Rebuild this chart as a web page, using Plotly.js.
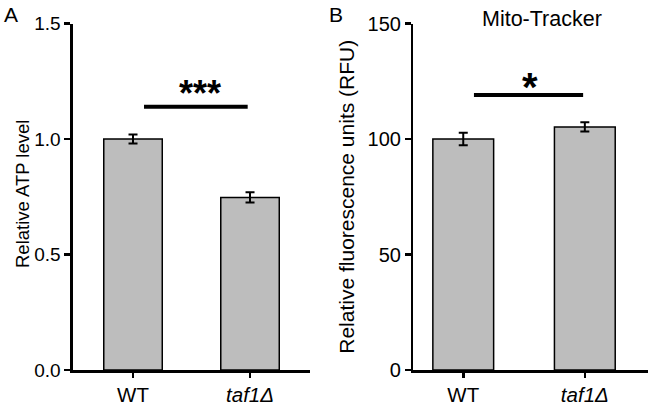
<!DOCTYPE html>
<html>
<head>
<meta charset="utf-8">
<script src="https://cdn.plot.ly/plotly-3.0.1.min.js"></script>
<style>html,body{margin:0;padding:0;background:#fff;}#chart{width:650px;height:408px;}</style>
</head>
<body>
<div id="chart"></div>
<script>
// ---- data ----
const categories = ['WT', 'taf1Δ'];
const categoryLabels = ['WT', '<i>taf1Δ</i>'];
const atpValues = [1.0, 0.747];
const atpErrors = [0.02, 0.022];
const rfuValues = [100, 105.2];
const rfuErrors = [2.7, 2.0];
const atpTicks = [0, 0.5, 1.0, 1.5];
const rfuTicks = [0, 50, 100, 150];
const atpSigY = 1.14, atpSigLabel = '***', atpStarY = 1.203;
const rfuSigY = 119, rfuSigLabel = '*', rfuStarY = 124.7;

// ---- style ----
const FONT = 'Liberation Sans, Arial, sans-serif';
const barStyle = {color: '#bdbdbd', line: {color: '#000', width: 1.5}};
const errStyle = {type: 'data', visible: true, color: '#000', thickness: 2, width: 4.5};

const traces = [
  {type: 'bar', x: categories, y: atpValues, error_y: Object.assign({array: atpErrors}, errStyle),
   marker: barStyle, xaxis: 'x', yaxis: 'y', hoverinfo: 'skip'},
  {type: 'bar', x: categories, y: rfuValues, error_y: Object.assign({array: rfuErrors}, errStyle),
   marker: barStyle, xaxis: 'x2', yaxis: 'y2', hoverinfo: 'skip'}
];

const axX = (domain, range, fs) => ({
  domain: domain, range: range, type: 'category', showgrid: false, zeroline: false,
  showline: true, linecolor: '#000', linewidth: 2.5, ticks: 'outside', ticklen: 5, tickwidth: 2.5,
  tickcolor: '#000', tickmode: 'array', tickvals: categories, ticktext: categoryLabels,
  tickfont: {family: FONT, size: fs, color: '#000'}, fixedrange: true
});
const axY = (anchor, range, ticks, fmt, fs, title, tfs, standoff) => ({
  anchor: anchor, domain: [0.0931, 0.9424], range: range, showgrid: false, zeroline: false,
  showline: true, linecolor: '#000', linewidth: 2.5, ticks: 'outside', ticklen: 6, tickwidth: 2.5,
  tickcolor: '#000', tickmode: 'array', tickvals: ticks, tickformat: fmt,
  tickfont: {family: FONT, size: fs, color: '#000'},
  title: {text: title, font: {family: FONT, size: tfs, color: '#000'}, standoff: standoff}, fixedrange: true
});

const layout = {
  width: 650, height: 408,
  margin: {l: 0, r: 0, t: 0, b: 0},
  paper_bgcolor: '#fff', plot_bgcolor: '#fff',
  showlegend: false, bargap: 0.5,
  font: {family: FONT, color: '#000'},
  xaxis: Object.assign(axX([0.1123, 0.477], [-0.513, 1.513], 20.5), {anchor: 'y'}),
  yaxis: axY('x', [0, 1.5], atpTicks, '.1f', 19, '', 18, 0),
  xaxis2: Object.assign(axX([0.636, 0.997], [-0.41, 1.52], 20.5), {anchor: 'y2'}),
  yaxis2: axY('x2', [0, 150], rfuTicks, 'd', 20, 'Relative fluorescence units (RFU)', 21, 7),
  shapes: [
    {type: 'line', xref: 'x', yref: 'y', x0: 0.094, x1: 0.98, y0: atpSigY, y1: atpSigY, line: {color: '#000', width: 4}},
    {type: 'line', xref: 'x2', yref: 'y2', x0: 0.088, x1: 0.986, y0: rfuSigY, y1: rfuSigY, line: {color: '#000', width: 4}}
  ],
  annotations: [
    {xref: 'paper', yref: 'paper', x: 22 / 650, y: 1 - 194 / 408, xanchor: 'center', yanchor: 'middle',
     textangle: -90, showarrow: false, text: 'Relative ATP level', font: {family: FONT, size: 18.5, color: '#000'}},
    {xref: 'x', yref: 'y', x: 0.57, y: atpStarY, yanchor: 'middle', yshift: -1, showarrow: false,
     text: '<b>' + atpSigLabel + '</b>', font: {family: FONT, size: 36, color: '#000'}},
    {xref: 'x2', yref: 'y2', x: 0.55, y: rfuStarY, yanchor: 'middle', yshift: -5, showarrow: false,
     text: '<b>' + rfuSigLabel + '</b>', font: {family: FONT, size: 40, color: '#000'}},
    {xref: 'paper', yref: 'paper', x: 542 / 650, y: 1 - 19 / 408, xanchor: 'center', yanchor: 'middle', showarrow: false,
     text: 'Mito-Tracker', font: {family: FONT, size: 21.5, color: '#000'}},
    {xref: 'paper', yref: 'paper', x: 2 / 650, y: 1 - 1 / 408, xanchor: 'left', yanchor: 'top', showarrow: false,
     text: 'A', font: {family: FONT, size: 21, color: '#000'}},
    {xref: 'paper', yref: 'paper', x: 327 / 650, y: 1 - 1 / 408, xanchor: 'left', yanchor: 'top', showarrow: false,
     text: 'B', font: {family: FONT, size: 21, color: '#000'}}
  ]
};

Plotly.newPlot('chart', traces, layout, {displayModeBar: false, staticPlot: true});
</script>
</body>
</html>
